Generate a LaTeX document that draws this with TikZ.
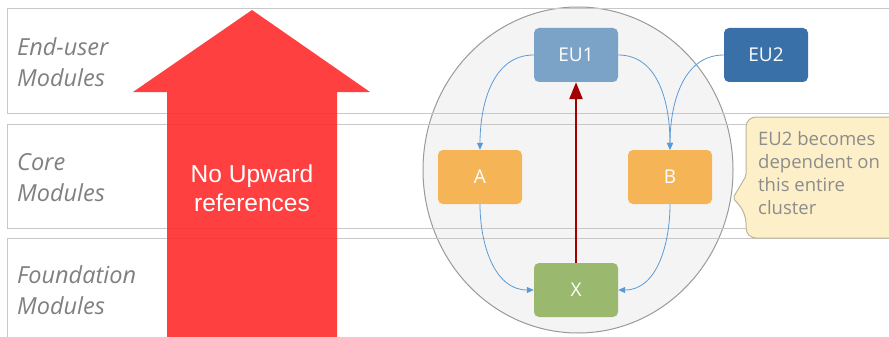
\documentclass[tikz,border=0pt]{standalone}
\usepackage{fontspec}
\setmainfont{Open Sans}
\newfontfamily\arialfont{Liberation Sans}
\usetikzlibrary{arrows.meta,shapes.geometric}
\definecolor{bandline}{HTML}{C8C8C8}
\definecolor{bandtext}{HTML}{808080}
\definecolor{bigred}{HTML}{FF3030}
\definecolor{circfill}{HTML}{F4F4F4}
\definecolor{circline}{HTML}{9A9A9A}
\definecolor{eulight}{HTML}{7BA2C7}
\definecolor{eudark}{HTML}{3A70A8}
\definecolor{coreorange}{HTML}{F5B556}
\definecolor{foundgreen}{HTML}{9BB96E}
\definecolor{depblue}{HTML}{5B9BD5}
\definecolor{upred}{HTML}{A30000}
\definecolor{notefill}{HTML}{FDF0C8}
\definecolor{noteline}{HTML}{BDB49A}
\definecolor{notetext}{HTML}{8C8C8C}
\tikzset{
  band/.style={draw=bandline, line width=1pt},
  bandlabel/.style={anchor=west, align=left, text=bandtext, font=\itshape\fontsize{23.5}{31}\selectfont, inner sep=0pt},
  module/.style={rounded corners=5pt, minimum width=84pt, minimum height=54pt, text=white, font=\fontsize{19}{22}\selectfont, inner sep=0pt},
  dep/.style={draw=depblue, line width=0.8pt, -{Triangle[length=7pt,width=6pt]}},
}
\begin{document}
\begin{tikzpicture}[x=1pt,y=-1pt]
\useasboundingbox (0,0) rectangle (889,337);
\clip (0,0) rectangle (889,337);
% band fills
\fill[white] (7,9) rectangle (900,113);
\fill[white] (7,124) rectangle (900,228);
\fill[white] (7,238) rectangle (900,350);
% cluster circle
\draw[fill=circfill, draw=circline, line width=1pt] (578,170) ellipse [x radius=155, y radius=163];
% band outlines
\draw[band] (7,9) rectangle (900,113);
\draw[band] (7,124) rectangle (900,228);
\draw[band] (7,238) rectangle (900,350);
% band labels
\node[bandlabel] (lblEU) at (17,62) {End-user\\Modules};
\node[bandlabel] (lblCore) at (17,178) {Core\\Modules};
\node[bandlabel] (lblFound) at (17,290) {Foundation\\Modules};
% big red arrow
\fill[bigred, opacity=0.92] (252,10) -- (370,92) -- (337,92) -- (337,345) -- (167,345) -- (167,92) -- (133,92) -- cycle;
\node[text=white, align=center, font=\arialfont\fontsize{24.5}{29}\selectfont, inner sep=0pt] (noup) at (252,188) {No Upward\\references};
% modules
\node[module, fill=eulight] (EU1) at (576,55) {EU1};
\node[module, fill=eudark] (EU2) at (766,55) {EU2};
\node[module, fill=coreorange] (A) at (480,177) {A};
\node[module, fill=coreorange] (B) at (670,177) {B};
\node[module, fill=foundgreen] (X) at (576,290) {X};
% dependencies
\draw[dep] (EU1.west) to[out=180,in=90] (A.north);
\draw[dep] (EU1.east) to[out=0,in=90] (B.north);
\draw[dep] (EU2.west) to[out=180,in=90] (B.north);
\draw[dep] (A.south) to[out=270,in=180] (X.west);
\draw[dep] (B.south) to[out=270,in=0] (X.east);
% upward reference
\draw[draw=upred, line width=2.6pt, -{Triangle[length=17pt,width=13pt]}] (X.north) -- (EU1.south);
% callout
\draw[fill=notefill, draw=noteline, line width=1pt, rounded corners=10pt]
  (746,117) -- (905,117) -- (905,238) -- (746,238) -- (746,213) [rounded corners=2pt] -- (733,198) -- (746,176) [rounded corners=10pt] -- cycle;
\node[anchor=north west, align=left, text=notetext, font=\fontsize{18.5}{23}\selectfont, inner sep=0pt] (note) at (758,131) {EU2 becomes\\dependent on\\this entire\\cluster};
\end{tikzpicture}
\end{document}
